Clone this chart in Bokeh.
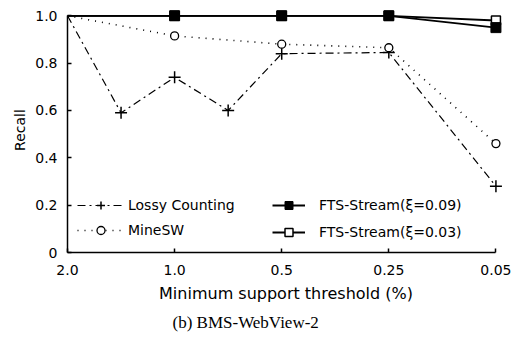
from bokeh.plotting import figure
from bokeh.models import Legend, LegendItem, FixedTicker, Range1d, Title
from bokeh.embed import file_html
from bokeh.resources import INLINE

# Data
tick_labels = ["2.0", "1.0", "0.5", "0.25", "0.05"]
tick_pos = [0, 1, 2, 3, 4]
# x positions of thresholds on the (ordinal) axis: 2.0,1.5,1.0,0.75,0.5,0.25,0.05
lossy_x = [0, 0.5, 1, 1.5, 2, 3, 4]
lossy_y = [1.0, 0.59, 0.74, 0.60, 0.84, 0.845, 0.28]
minesw_x = [0, 1, 2, 3, 4]
minesw_y = [1.0, 0.915, 0.88, 0.865, 0.46]
fts09_x = [0, 1, 2, 3, 4]
fts09_y = [1.0, 1.0, 1.0, 1.0, 0.95]
fts03_x = [0, 1, 2, 3, 4]
fts03_y = [1.0, 1.0, 1.0, 1.0, 0.98]

FONT = "DejaVu Sans"

p = figure(width=511, height=339, output_backend="svg", toolbar_location=None,
           x_range=Range1d(0, 4.08), y_range=Range1d(0, 1.035),
           min_border_left=67, min_border_right=7, min_border_top=7, min_border_bottom=87)
p.outline_line_color = None
p.grid.visible = False
p.background_fill_color = "white"
p.border_fill_color = "white"

# Lines and markers
r_lossy_l = p.line(lossy_x, lossy_y, line_color="black", line_width=1.2, line_dash="8 4 2 4")
r_lossy_m = p.scatter(lossy_x[1:], lossy_y[1:], marker="cross", size=12, line_color="black", line_width=1.5)
r_mine_l = p.line(minesw_x, minesw_y, line_color="black", line_width=1.6, line_dash="1 6")
r_mine_m = p.scatter(minesw_x[1:], minesw_y[1:], marker="circle", size=8, line_color="black",
                     fill_color="white", line_width=1.3)
r_f03_l = p.line(fts03_x, fts03_y, line_color="black", line_width=1.8)
r_f03_m = p.scatter(fts03_x[1:], fts03_y[1:], marker="square", size=9, line_color="black",
                    fill_color="white", line_width=1.5)
r_f09_l = p.line(fts09_x, fts09_y, line_color="black", line_width=1.8)
r_f09_m = p.scatter(fts09_x[1:], fts09_y[1:], marker="square", size=10, line_color="black",
                    fill_color="black")

# Axes
p.xaxis.ticker = FixedTicker(ticks=tick_pos)
p.xaxis.major_label_overrides = {t: l for t, l in zip(tick_pos, tick_labels)}
p.xaxis.bounds = (0, 4)
p.yaxis.ticker = FixedTicker(ticks=[0, 0.2, 0.4, 0.6, 0.8, 1.0])
p.yaxis.major_label_overrides = {0: "0", 0.2: "0.2", 0.4: "0.4", 0.6: "0.6", 0.8: "0.8", 1.0: "1.0"}
p.yaxis.bounds = (0, 1.0)
for ax in (p.xaxis, p.yaxis):
    ax.axis_line_color = "black"
    ax.axis_line_width = 1.5
    ax.major_tick_in = 4
    ax.major_tick_out = 0
    ax.minor_tick_line_color = None
    ax.major_tick_line_color = "black"
    ax.major_tick_line_width = 1.5
    ax.major_label_text_font = FONT
    ax.major_label_text_font_size = "14px"
    ax.major_label_text_color = "black"
    ax.axis_label_text_font = FONT
    ax.axis_label_text_font_style = "normal"
    ax.axis_label_text_color = "black"
p.xaxis.axis_label = "Minimum support threshold (%)"
p.xaxis.axis_label_text_font_size = "16px"
p.xaxis.major_label_standoff = 12
p.xaxis.axis_label_standoff = 6
p.yaxis.axis_label = "Recall"
p.yaxis.axis_label_text_font_size = "14px"
p.yaxis.major_label_standoff = 10
p.yaxis.axis_label_standoff = 4

# Caption
cap = Title(text="(b) BMS-WebView-2", align="left", text_font="Liberation Serif",
            text_font_size="17px", text_font_style="normal", text_color="black", offset=105)
p.add_layout(cap, "below")

# Legends
leg1 = Legend(items=[LegendItem(label="Lossy Counting", renderers=[r_lossy_l, r_lossy_m]),
                     LegendItem(label="MineSW", renderers=[r_mine_l, r_mine_m])],
              location=(10, 12), glyph_width=47, glyph_height=20, label_height=20,
              spacing=5, padding=0, label_standoff=4, border_line_color=None,
              background_fill_alpha=0, label_text_font=FONT, label_text_font_size="14px",
              label_text_color="black")
leg2 = Legend(items=[LegendItem(label="FTS-Stream(ξ=0.09)", renderers=[r_f09_l, r_f09_m]),
                     LegendItem(label="FTS-Stream(ξ=0.03)", renderers=[r_f03_l, r_f03_m])],
              location=(205, 10), glyph_width=33, glyph_height=20, label_height=20,
              spacing=7, padding=0, label_standoff=14, border_line_color=None,
              background_fill_alpha=0, label_text_font=FONT, label_text_font_size="14px",
              label_text_color="black")
p.add_layout(leg1, "center")
p.add_layout(leg2, "center")

open("out.html", "w").write(file_html(p, INLINE))
